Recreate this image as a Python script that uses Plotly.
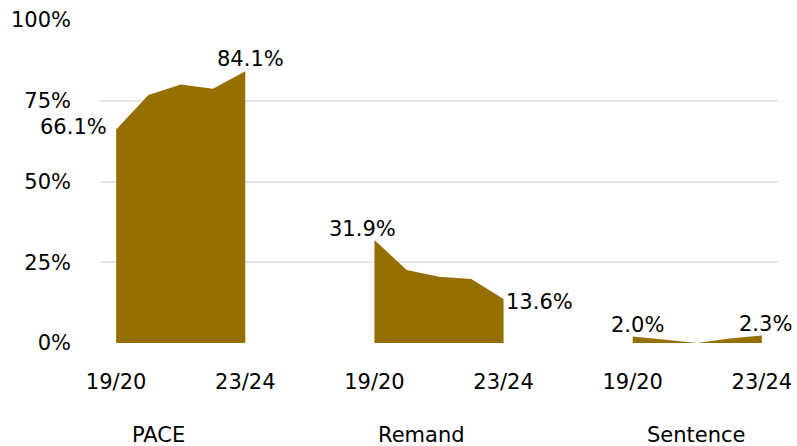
import plotly.graph_objects as go

# Share of cases by stage, financial years 19/20 to 23/24
years = ["19/20", "20/21", "21/22", "22/23", "23/24"]
groups = ["PACE", "Remand", "Sentence"]
pace = [66.1, 76.8, 80.0, 78.7, 84.1]
remand = [31.9, 22.6, 20.5, 19.8, 13.6]
sentence = [2.0, 1.1, 0.0, 1.4, 2.3]
y_ticks = [0, 25, 50, 75, 100]

series = [pace, remand, sentence]
FILL = "#957000"
FONT = dict(family="DejaVu Sans", size=21, color="#000000")
STRIDE = 8  # five years plus a three-slot gap between groups

fig = go.Figure()
tick_vals, tick_text = [], []
for g, vals in enumerate(series):
    xs = [g * STRIDE + i for i in range(len(years))]
    fig.add_trace(go.Scatter(
        x=xs, y=vals, mode="lines", fill="tozeroy",
        fillcolor=FILL, line=dict(width=0, color=FILL),
        hoverinfo="skip", showlegend=False,
    ))
    tick_vals += [xs[0], xs[-1]]
    tick_text += [years[0], years[-1]]

# data labels on the first and last year of each group
label_style = {
    (0, 0): dict(xanchor="right", xshift=-7, yshift=3),
    (0, 4): dict(xanchor="center", xshift=5, yshift=12),
    (1, 0): dict(xanchor="center", xshift=-12, yshift=11),
    (1, 4): dict(xanchor="left", xshift=0, yshift=-3),
    (2, 0): dict(xanchor="center", xshift=5, yshift=12),
    (2, 4): dict(xanchor="center", xshift=4, yshift=12),
}
for (g, i), st in label_style.items():
    v = series[g][i]
    fig.add_annotation(
        x=g * STRIDE + i, y=v, text=f"{v:.1f}%", showarrow=False,
        yanchor="middle", font=FONT, **st,
    )

# group names below the year labels
group_pos = [1.31, 9.47, 17.97]
for name, gx in zip(groups, group_pos):
    fig.add_annotation(
        x=gx, y=0, yref="paper", text=name, showarrow=False,
        xanchor="center", yanchor="middle", yshift=-92, font=FONT,
    )

fig.update_layout(
    width=797, height=446,
    margin=dict(l=100, r=19, t=20, b=103),
    paper_bgcolor="white", plot_bgcolor="white",
    font=FONT,
)
fig.update_xaxes(
    range=[-0.5, 2 * STRIDE + 4.5], tickvals=tick_vals, ticktext=tick_text,
    showgrid=False, zeroline=False, showline=False, ticks="",
    ticklabelstandoff=24, tickfont=FONT, automargin=False,
)
fig.update_yaxes(
    range=[0, 100], tickvals=y_ticks, ticktext=[f"{v}%" for v in y_ticks],
    showgrid=True, gridcolor="#E6E6E6", gridwidth=1.5,
    zeroline=False, showline=False, ticks="",
    ticklabelstandoff=28, tickfont=FONT, automargin=False,
)

fig.write_html("out.html")
